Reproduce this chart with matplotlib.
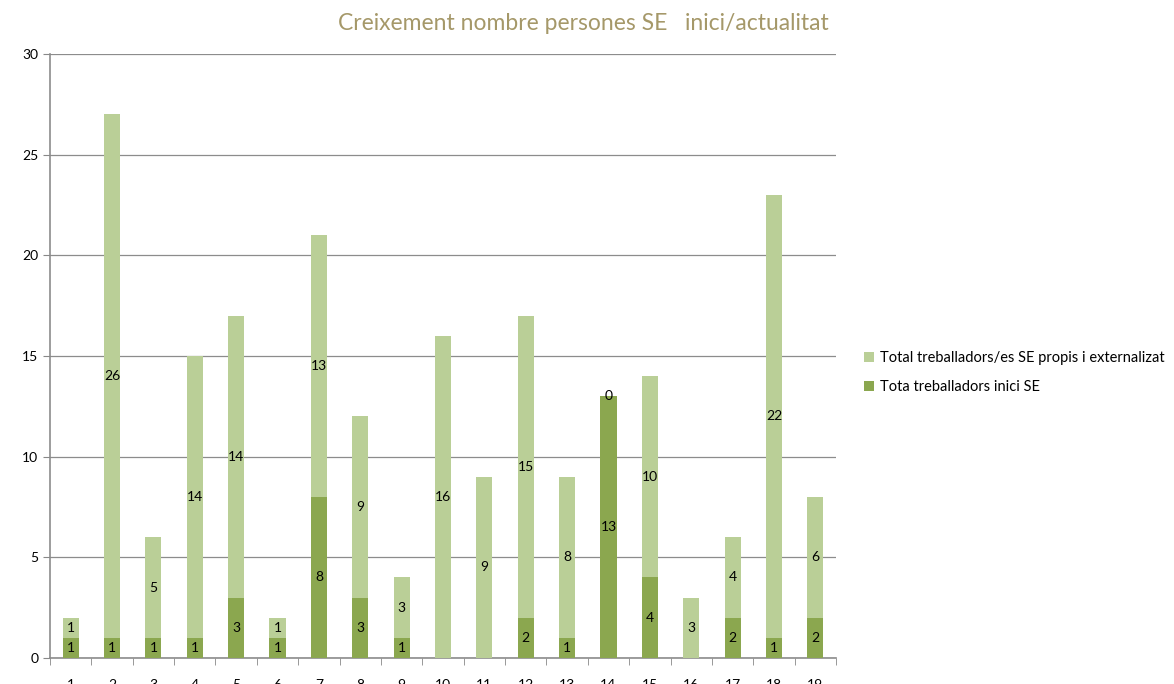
import numpy as np
import matplotlib.pyplot as plt

cats = [str(i) for i in range(1, 20)]
inici = [1, 1, 1, 1, 3, 1, 8, 3, 1, 0, 0, 2, 1, 13, 4, 0, 2, 1, 2]
extra = [1, 26, 5, 14, 14, 1, 13, 9, 3, 16, 9, 15, 8, 0, 10, 3, 4, 22, 6]

dark = "#8BA74F"
light = "#BACF97"

plt.rcParams['font.family'] = ['Lato', 'DejaVu Sans']

fig = plt.figure(figsize=(11.74, 6.84), dpi=100)
ax = fig.add_axes([0.0426, 0.038, 0.6695, 0.883])

x = np.arange(len(cats))
w = 0.39
b1 = ax.bar(x, inici, w, color=dark, label="Tota treballadors inici SE", zorder=3)
b2 = ax.bar(x, extra, w, bottom=inici, color=light,
            label="Total treballadors/es SE propis i externalizat", zorder=3)

for i in range(len(cats)):
    if inici[i] > 0:
        ax.text(x[i], inici[i] / 2, str(inici[i]), ha="center", va="center",
                fontsize=10, color="black", zorder=4)
    ax.text(x[i], inici[i] + extra[i] / 2, str(extra[i]), ha="center", va="center",
            fontsize=10, color="black", zorder=4)

ax.set_xlim(-0.5, len(cats) - 0.5)
ax.set_ylim(0, 30)
ax.set_yticks(range(0, 31, 5))
ax.set_xticks(x)
ax.set_xticklabels(cats)
ax.set_xticks(np.arange(-0.5, len(cats), 1), minor=True)
ax.tick_params(axis="x", which="major", length=0, pad=15, labelsize=10)
ax.tick_params(axis="x", which="minor", length=5, color="#888888", direction="out")
ax.tick_params(axis="y", length=5, color="#888888", labelsize=10)

ax.grid(axis="y", color="#8c8c8c", linewidth=0.9, zorder=0)
for s in ["top", "right"]:
    ax.spines[s].set_visible(False)
for s in ["left", "bottom"]:
    ax.spines[s].set_color("#8c8c8c")
    ax.spines[s].set_linewidth(1.2)

fig.text(0.497, 0.965, "Creixement nombre persones SE   inici/actualitat",
         ha="center", va="center", fontsize=16.5, color="#A59869")

h, l = ax.get_legend_handles_labels()
fig.legend(h[::-1], l[::-1], loc="center left", bbox_to_anchor=(0.725, 0.455),
           frameon=False, fontsize=10.5, handlelength=0.7, handleheight=0.7,
           labelspacing=1.0, handletextpad=0.4)

fig.savefig("out.png", dpi=100)
